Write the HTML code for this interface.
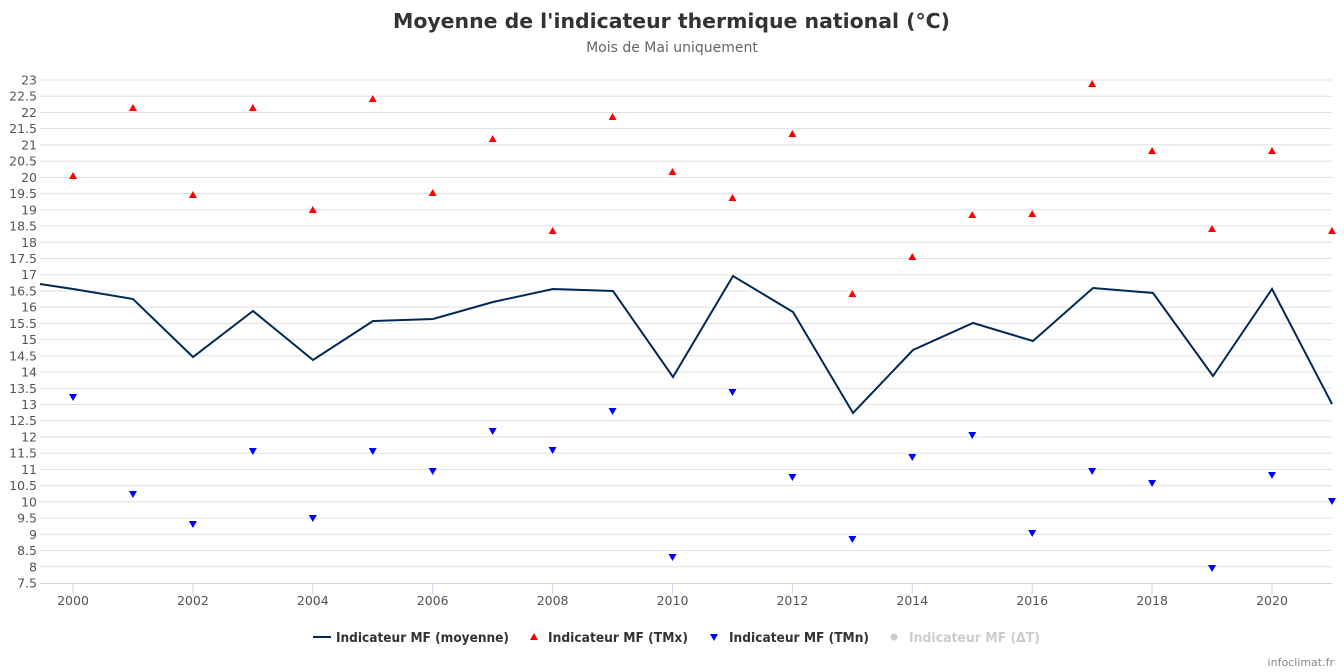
<!DOCTYPE html>
<html><head><meta charset="utf-8"><style>
html,body{margin:0;padding:0;background:#fff;width:1344px;height:672px;overflow:hidden}
svg{display:block;font-family:"DejaVu Sans","Liberation Sans",sans-serif}
</style></head><body>
<svg id="c" width="1344" height="672" xmlns="http://www.w3.org/2000/svg">
<text x="393" y="28" textLength="557" lengthAdjust="spacingAndGlyphs" font-size="20" font-weight="bold" fill="#333">Moyenne de l'indicateur thermique national (°C)</text>
<text x="672" y="52" text-anchor="middle" font-size="14" fill="#666">Mois de Mai uniquement</text>
<g id="grid"></g>
<g id="series"></g>
<g font-size="13" font-weight="bold">
<line x1="313" y1="637" x2="331" y2="637" stroke="#002a55" stroke-width="2"/>
<text x="336" y="642" textLength="173" lengthAdjust="spacingAndGlyphs" fill="#333">Indicateur MF (moyenne)</text>
<path d="M534,633 L538,640 L530,640Z" fill="red"/>
<text x="548" y="642" textLength="140" lengthAdjust="spacingAndGlyphs" fill="#333">Indicateur MF (TMx)</text>
<path d="M710,634 L718,634 L714,641Z" fill="blue"/>
<text x="729" y="642" textLength="140" lengthAdjust="spacingAndGlyphs" fill="#333">Indicateur MF (TMn)</text>
<circle cx="894" cy="637" r="3.5" fill="#ccc"/>
<text x="909" y="642" textLength="131" lengthAdjust="spacingAndGlyphs" fill="#ccc">Indicateur MF (ΔT)</text>
</g>
<text x="1334" y="666" text-anchor="end" font-size="11" fill="#888">infoclimat.fr</text>
</svg>
<script>
var ns="http://www.w3.org/2000/svg",g=document.getElementById('grid'),s=document.getElementById('series');
function el(p,t,a,txt){var e=document.createElementNS(ns,t);for(var k in a)e.setAttribute(k,a[k]);if(txt!=null)e.textContent=txt;p.appendChild(e);return e;}
for(var i=0;i<=31;i++){var v=23-i*0.5,y=80+i*16.226;
 if(i<31)el(g,'line',{x1:40,x2:1332,y1:y,y2:y,stroke:'#e0e0e0','stroke-width':1});
 el(g,'text',{x:37,y:y+4.5,'text-anchor':'end','font-size':12.5,fill:'#555'},String(v));}
el(g,'line',{x1:40,x2:1332,y1:583.5,y2:583.5,stroke:'#ccd6eb','stroke-width':1});
for(var yr=2000;yr<=2020;yr+=2){var x=73+(yr-2000)*59.95;
 el(g,'line',{x1:x,x2:x,y1:584,y2:594,stroke:'#ccd6eb'});
 el(g,'text',{x:x,y:605,'text-anchor':'middle','font-size':12.5,fill:'#555'},String(yr));}
var L=[[40,284],[73,289],[133,299],[193,357],[253,311],[313,360],[373,321],[433,319],[493,302],[553,289],[613,291],[673,377],[733,276],[793,312],[853,413],[913,350],[973,323],[1033,341],[1093,288],[1153,293],[1213,376],[1272,289],[1332,404]];
el(s,'polyline',{points:L.map(function(p){return p.join(',')}).join(' '),fill:'none',stroke:'#002a55','stroke-width':2});
var X=[176,108,195,108,210,99,193,139,231,117,172,198,134,294,257,215,214,84,151,229,151,231];
var N=[397,494,524,451,518,451,471,431,450,411,557,392,477,539,457,435,533,471,483,568,475,501];
for(var i=0;i<22;i++){var x=73+i*59.95;
 el(s,'path',{d:'M'+x+','+(X[i]-4)+' L'+(x+4)+','+(X[i]+3)+' L'+(x-4)+','+(X[i]+3)+'Z',fill:'red'});
 el(s,'path',{d:'M'+(x-4)+','+(N[i]-3)+' L'+(x+4)+','+(N[i]-3)+' L'+x+','+(N[i]+4)+'Z',fill:'blue'});}
</script>
</body></html>
